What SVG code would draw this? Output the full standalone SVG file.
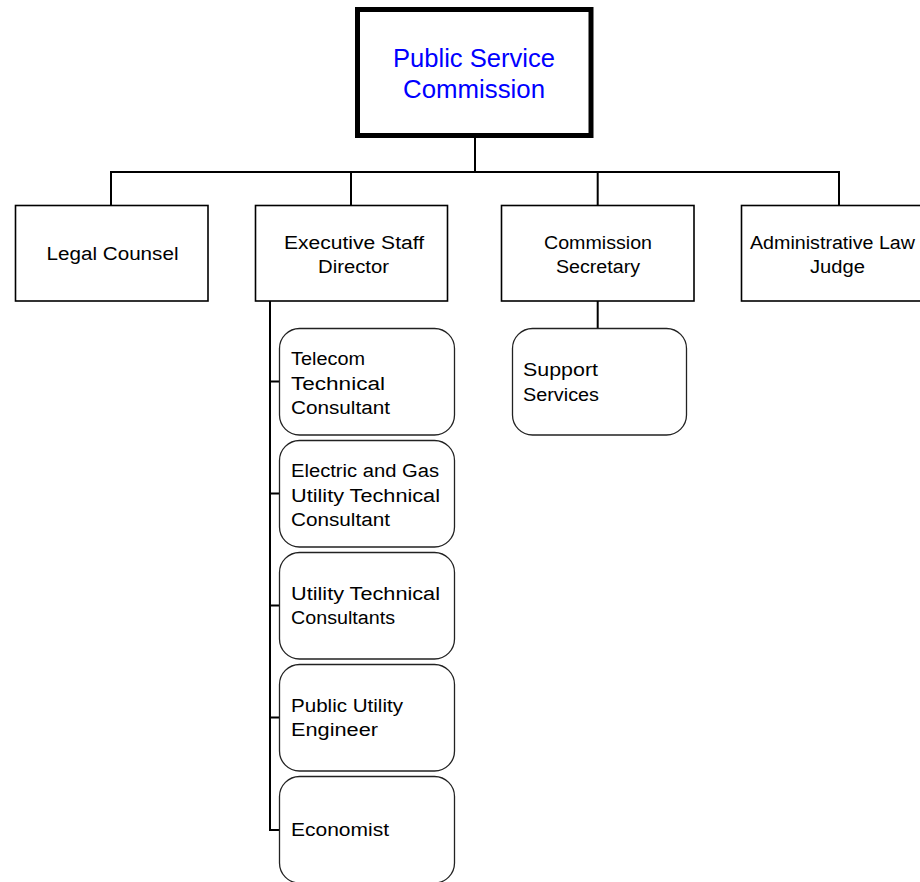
<svg xmlns="http://www.w3.org/2000/svg" width="920" height="882" viewBox="0 0 920 882">
<style>
.box{fill:#fff;stroke:#000;stroke-width:1.6}
.rbox{fill:#fff;stroke:#222;stroke-width:1.3}
.top{fill:#fff;stroke:#000;stroke-width:5}
.conn{fill:none;stroke:#000;stroke-width:2}
text{font-family:"Liberation Sans",Arial,sans-serif;font-size:18px;fill:#000}
.c{text-anchor:middle}
.title{font-size:25px;fill:#0000ff}
</style>
<rect width="920" height="882" fill="#fff"/>
<g id="connectors">
<path class="conn" d="M475 136 V172 M111 205 V172 H839 V205 M351 172 V205 M597.7 172 V205"/>
<path class="conn" d="M270 301 V830 H280 M270 381.5 H280 M270 493.5 H280 M270 605.5 H280 M270 717.5 H280"/>
<path class="conn" d="M597.7 301 V328"/>
</g>
<g id="psc">
<rect class="top" x="357.5" y="9.5" width="233.5" height="126"/>
<text class="c title" x="474" y="67" textLength="162" lengthAdjust="spacingAndGlyphs">Public Service</text>
<text class="c title" x="474" y="98" textLength="142" lengthAdjust="spacingAndGlyphs">Commission</text>
</g>
<g id="legal">
<rect class="box" x="15.5" y="205.5" width="192.5" height="95.5"/>
<text class="c" x="112.5" y="260" textLength="132" lengthAdjust="spacingAndGlyphs">Legal Counsel</text>
</g>
<g id="exec">
<rect class="box" x="255.5" y="205.5" width="192" height="95.5"/>
<text class="c" x="354" y="248.5" textLength="140" lengthAdjust="spacingAndGlyphs">Executive Staff</text>
<text class="c" x="353.5" y="273" textLength="71" lengthAdjust="spacingAndGlyphs">Director</text>
</g>
<g id="secretary">
<rect class="box" x="501.5" y="205.5" width="192.5" height="95.5"/>
<text class="c" x="598" y="248.5" textLength="108" lengthAdjust="spacingAndGlyphs">Commission</text>
<text class="c" x="598" y="273" textLength="84" lengthAdjust="spacingAndGlyphs">Secretary</text>
</g>
<g id="alj">
<rect class="box" x="741.5" y="205.5" width="193" height="95.5"/>
<text class="c" x="832.5" y="248.5" textLength="165" lengthAdjust="spacingAndGlyphs">Administrative Law</text>
<text class="c" x="837.5" y="273" textLength="55" lengthAdjust="spacingAndGlyphs">Judge</text>
</g>
<g id="telecom">
<rect class="rbox" x="279.5" y="328.5" width="175" height="106.5" rx="20"/>
<text x="291" y="365" textLength="74" lengthAdjust="spacingAndGlyphs">Telecom</text>
<text x="291" y="389.5" textLength="94" lengthAdjust="spacingAndGlyphs">Technical</text>
<text x="291" y="414" textLength="99" lengthAdjust="spacingAndGlyphs">Consultant</text>
</g>
<g id="electric">
<rect class="rbox" x="279.5" y="440.5" width="175" height="106.5" rx="20"/>
<text x="291" y="477" textLength="148" lengthAdjust="spacingAndGlyphs">Electric and Gas</text>
<text x="291" y="501.5" textLength="149" lengthAdjust="spacingAndGlyphs">Utility Technical</text>
<text x="291" y="526" textLength="99" lengthAdjust="spacingAndGlyphs">Consultant</text>
</g>
<g id="utility">
<rect class="rbox" x="279.5" y="552.5" width="175" height="106.5" rx="20"/>
<text x="291" y="599.5" textLength="149" lengthAdjust="spacingAndGlyphs">Utility Technical</text>
<text x="291" y="624" textLength="104" lengthAdjust="spacingAndGlyphs">Consultants</text>
</g>
<g id="engineer">
<rect class="rbox" x="279.5" y="664.5" width="175" height="106.5" rx="20"/>
<text x="291" y="711.5" textLength="112" lengthAdjust="spacingAndGlyphs">Public Utility</text>
<text x="291" y="736" textLength="87" lengthAdjust="spacingAndGlyphs">Engineer</text>
</g>
<g id="economist">
<rect class="rbox" x="279.5" y="776.5" width="175" height="106.5" rx="20"/>
<text x="291" y="836" textLength="98" lengthAdjust="spacingAndGlyphs">Economist</text>
</g>
<g id="support">
<rect class="rbox" x="512.5" y="328.5" width="174" height="106.5" rx="20"/>
<text x="523" y="376" textLength="75" lengthAdjust="spacingAndGlyphs">Support</text>
<text x="523" y="400.5" textLength="76" lengthAdjust="spacingAndGlyphs">Services</text>
</g>
</svg>
